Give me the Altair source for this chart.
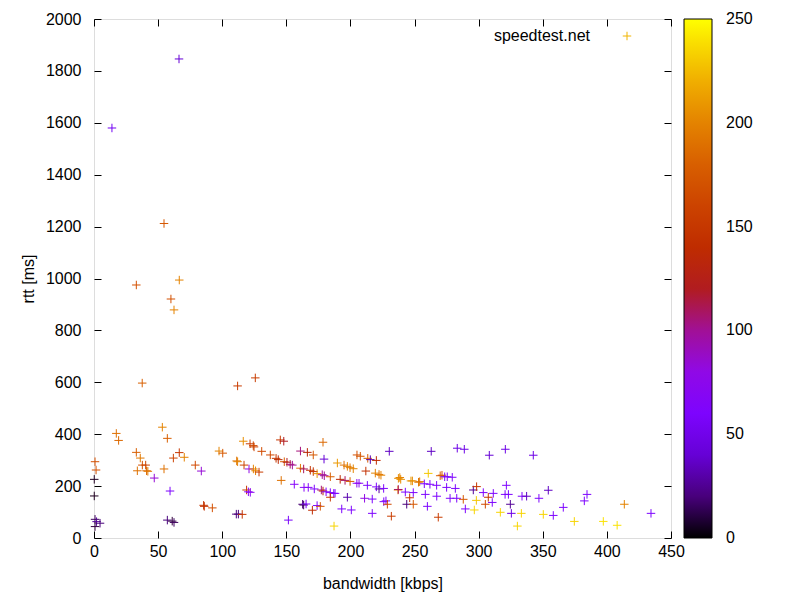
import math
import altair as alt
import pandas as pd

# ---- data ----
bandwidth = [
    66.3, 14.0, 54.6, 33.0, 60.0, 62.4, 66.5, 37.6, 112.0, 125.8,
    17.4, 19.2, 53.3, 57.2, 33.0, 36.1, 37.7, 40.3, 33.8, 41.0,
    42.0, 47.0, 59.3, 54.6, 61.9, 66.5, 70.4, 79.0, 83.7, 85.5,
    86.0, 92.3, 97.5, 100.4, 111.3, 111.0, 0.8, 1.6, 0.2, 0.2,
    0.8, 2.0, 4.7, 0.8, 57.2, 61.0, 62.4,
    116.4, 121.7, 124.2, 124.8, 130.8, 137.5, 142.0, 143.7, 145.3, 148.0,
    148.4, 150.5, 153.0, 154.7, 112.0, 117.0, 120.9, 124.3, 126.0, 128.7,
    146.0, 119.0, 120.4, 121.9, 156.2, 161.0, 166.4, 171.0, 178.6, 179.4,
    161.0, 163.5, 168.7, 171.0, 174.0, 178.0, 179.6, 184.3, 163.8, 167.1,
    171.8, 177.3, 178.6, 181.0, 184.3, 187.0, 188.0, 184.3, 162.7, 163.5,
    165.4, 174.0, 176.5, 170.3, 151.6, 112.6, 115.6, 187.2, 189.8, 195.0,
    197.6, 199.7, 202.2, 205.1, 207.7, 213.5, 215.5, 220.2, 197.6, 193.2,
    200.7, 192.0, 195.8, 199.7, 205.0, 206.7, 212.0, 213.2, 219.4, 222.3,
    223.8, 220.2, 222.3, 225.9, 211.0, 217.0, 217.0, 226.0,
    230.3, 263.0, 283.3, 288.8, 308.3, 320.8, 237.4, 239.2, 238.5, 247.2,
    248.3, 253.1, 254.0, 257.6, 260.7, 262.0, 267.2, 270.0, 271.4, 273.5,
    275.5, 279.4, 275.0, 281.8, 237.1, 237.3, 242.8, 249.0, 246.2, 258.4,
    267.3, 277.7, 282.9, 288.0, 227.7, 228.8, 243.9, 249.0, 260.0, 231.9,
    268.5, 289.6, 296.6, 298.2, 295.8, 298.4, 303.6, 307.5, 305.2, 311.4,
    310.6, 316.9, 321.6, 320.6, 323.2, 324.7, 325.5, 333.3, 330.2, 333.8,
    337.4, 342.6, 347.0, 354.3, 350.4, 358.2, 366.0, 374.6, 382.4, 384.5,
    397.2, 408.0, 413.6, 434.4,
]
rtt = [
    1846, 1580, 1212, 975, 921, 879, 994, 597, 586, 617,
    403, 376, 427, 384, 330, 308, 281, 281, 259, 259,
    257, 231, 181, 266, 308, 329, 311, 281, 258, 126,
    122, 116, 335, 327, 297, 92, 294, 262, 226, 162,
    72, 63, 57, 44, 69, 65, 60,
    373, 363, 356, 351, 334, 320, 307, 302, 378, 373,
    294, 292, 284, 281, 294, 281, 266, 266, 259, 254,
    222, 185, 178, 176, 207, 335, 330, 320, 369, 304,
    269, 266, 261, 256, 248, 244, 240, 236, 195, 195,
    189, 185, 181, 178, 175, 172, 172, 157, 130, 127,
    131, 125, 122, 107, 69, 92, 91, 46, 289, 281,
    276, 271, 267, 320, 315, 307, 302, 299, 157, 112,
    108, 226, 222, 218, 211, 211, 258, 203, 250, 245,
    242, 197, 189, 191, 153, 150, 95, 140,
    334, 334, 346, 342, 319, 342, 230, 226, 233, 220,
    220, 215, 217, 209, 249, 207, 203, 240, 242, 236,
    236, 234, 195, 191, 185, 187, 177, 175, 155, 168,
    161, 153, 153, 149, 143, 130, 130, 130, 122, 84,
    80, 112, 108, 145, 185, 198, 175, 157, 130, 172,
    137, 99, 203, 168, 168, 130, 95, 95, 46, 161,
    161, 319, 153, 184, 91, 87, 118, 64, 143, 168,
    64, 49, 130, 95,
]
colour_value = [
    40, 50, 175, 170, 170, 200, 200, 180, 155, 155,
    190, 185, 200, 180, 180, 195, 170, 160, 190, 185,
    195, 85, 60, 190, 160, 150, 200, 165, 85, 150,
    145, 170, 200, 175, 190, 20, 170, 170, 5, 5,
    15, 25, 20, 10, 20, 10, 15,
    205, 155, 165, 160, 165, 165, 150, 135, 150, 120,
    180, 120, 110, 100, 200, 160, 80, 200, 200, 155,
    190, 150, 75, 75, 70, 105, 130, 175, 185, 40,
    195, 110, 145, 145, 205, 100, 100, 180, 70, 70,
    60, 105, 130, 65, 65, 65, 60, 150, 20, 15,
    60, 60, 175, 140, 55, 20, 150, 235, 210, 190,
    200, 195, 200, 170, 175, 180, 30, 140, 30, 60,
    60, 135, 110, 180, 75, 75, 145, 60, 200, 190,
    200, 60, 25, 60, 80, 60, 60, 60,
    35, 35, 45, 45, 40, 45, 205, 205, 200, 210,
    205, 195, 190, 60, 230, 60, 60, 180, 175, 60,
    60, 60, 60, 60, 200, 110, 60, 60, 150, 60,
    60, 60, 60, 175, 60, 165, 20, 175, 60, 155,
    155, 60, 235, 230, 25, 150, 60, 150, 165, 60,
    60, 235, 60, 60, 60, 25, 45, 235, 235, 60,
    35, 45, 60, 35, 235, 60, 60, 235, 60, 60,
    240, 240, 200, 60,
]
x_ticks = [0, 50, 100, 150, 200, 250, 300, 350, 400, 450]
y_ticks = [0, 200, 400, 600, 800, 1000, 1200, 1400, 1600, 1800, 2000]
cb_ticks = [0, 50, 100, 150, 200, 250]
cb_inner_ticks = [50, 100, 150, 200]
series_name = ["speedtest.net"]

df = pd.DataFrame({"bw": bandwidth, "rtt": rtt, "c": colour_value})


# gnuplot palette rgbformulae 7,5,15
def pal(t):
    r = math.sqrt(t)
    g = t ** 3
    b = max(0.0, math.sin(2 * math.pi * t))
    return "#%02x%02x%02x" % (round(r * 255), round(g * 255), round(b * 255))


pal_range = [pal(i / 40) for i in range(41)]

FONT = "Liberation Sans"
PLUS = "M-1,0L1,0M0,-1L0,1"

xs = alt.Scale(domain=[0, 450], nice=False, zero=False)
ys = alt.Scale(domain=[0, 2000], nice=False, zero=False)

common_axis = dict(domain=False, grid=False, tickSize=7, offset=-7,
                   tickColor="black", labelColor="black", labelFont=FONT,
                   labelFontSize=16, titleFont=FONT, titleFontSize=16,
                   titleColor="black", titleFontWeight="normal",
                   labelFlush=False, labelOverlap=False, labelBound=False,
                   format="d")

x_bottom = alt.Axis(values=x_ticks, title="bandwidth [kbps]", orient="bottom",
                    labelPadding=5, titlePadding=16, **common_axis)
y_left = alt.Axis(values=y_ticks, title="rtt [ms]", orient="left",
                  labelPadding=13, titlePadding=9, **common_axis)
x_top = alt.Axis(values=x_ticks, title=None, orient="top", labels=False, **common_axis)
y_right = alt.Axis(values=y_ticks, title=None, orient="right", labels=False, **common_axis)

points = alt.Chart(df).mark_point(
    shape=PLUS, filled=False, size=72, strokeWidth=1, opacity=1
).encode(
    x=alt.X("bw:Q", scale=xs, axis=x_bottom),
    y=alt.Y("rtt:Q", scale=ys, axis=y_left),
    color=alt.Color(
        "c:Q",
        scale=alt.Scale(domain=[0, 250], range=pal_range, interpolate="rgb", nice=False, zero=False),
        legend=alt.Legend(
            orient="none", legendX=590, legendY=0, direction="vertical",
            gradientLength=519, gradientThickness=28, title=None,
            values=cb_ticks, labelExpr="''", labelFontSize=16,
            padding=0, gradientStrokeColor="black", gradientStrokeWidth=1,
        ),
    ),
)

mirror = alt.Chart(df).mark_point(opacity=0).encode(
    x=alt.X("bw:Q", scale=xs, axis=x_top),
    y=alt.Y("rtt:Q", scale=ys, axis=y_right),
)

cb_df = pd.DataFrame({"v": cb_inner_ticks})
cb_lab_df = pd.DataFrame({"v": cb_ticks})
cb_scale = alt.Scale(domain=[0, 250], nice=False, zero=False)
cb_left = alt.Chart(cb_df).mark_rule(color="black", strokeWidth=1).encode(
    y=alt.Y("v:Q", scale=cb_scale, axis=None),
    x=alt.value(590), x2=alt.value(597),
)
cb_right = alt.Chart(cb_df).mark_rule(color="black", strokeWidth=1).encode(
    y=alt.Y("v:Q", scale=cb_scale, axis=None),
    x=alt.value(611), x2=alt.value(618),
)
cb_labels = alt.Chart(cb_lab_df).mark_text(
    font=FONT, fontSize=16, align="left", baseline="middle", color="black"
).encode(
    y=alt.Y("v:Q", scale=cb_scale, axis=None),
    x=alt.value(632),
    text=alt.Text("v:Q", format="d"),
)

key_df = pd.DataFrame({"name": series_name})
key_text = alt.Chart(key_df).mark_text(
    font=FONT, fontSize=16, align="right", baseline="middle", color="black"
).encode(text="name:N", x=alt.value(496), y=alt.value(17))
key_pt = alt.Chart(key_df).mark_point(
    shape=PLUS, filled=False, size=72, strokeWidth=1, color="#f0b400", opacity=1
).encode(x=alt.value(533), y=alt.value(17))

chart = alt.layer(points, mirror, cb_left, cb_right, cb_labels, key_text, key_pt).resolve_scale(
    y="independent"
).resolve_axis(
    x="independent", y="independent"
).properties(
    width=577, height=519,
    autosize=alt.AutoSizeParams(type="none"),
    padding={"left": 94, "top": 19, "right": 129, "bottom": 62},
).configure_view(stroke="black", strokeWidth=1).configure(background="white")

chart.save("out.html", embed_options={"renderer": "svg", "actions": False})
